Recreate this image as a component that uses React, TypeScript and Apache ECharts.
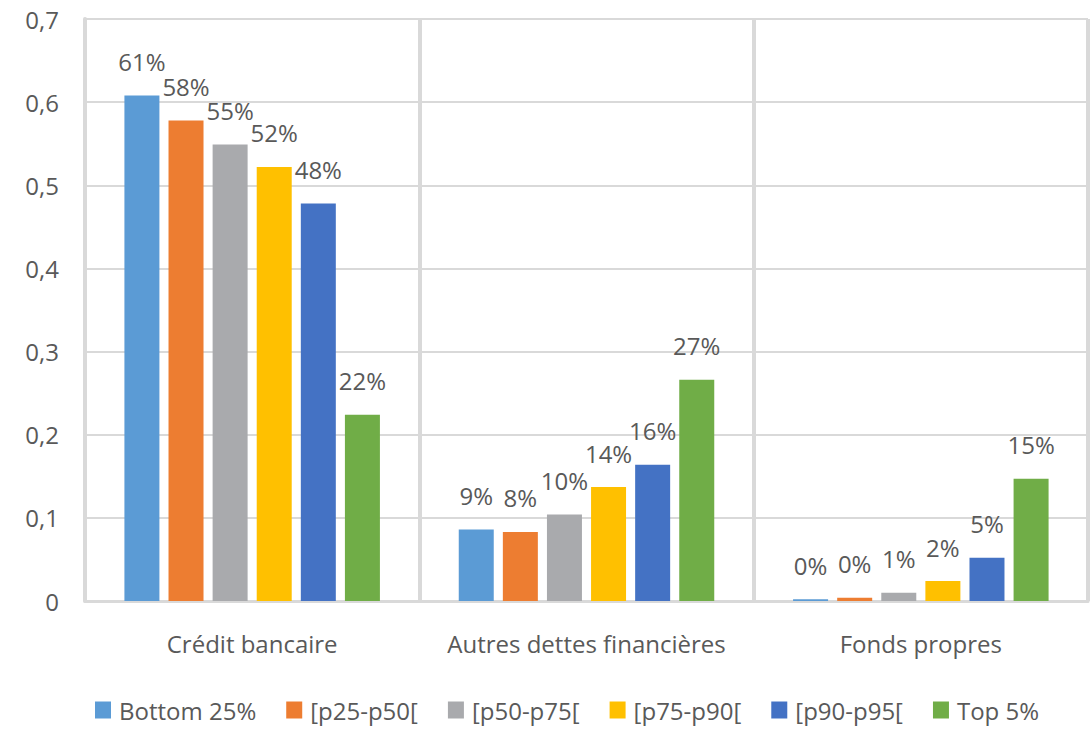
import React, { useEffect, useRef } from "react";
import * as echarts from "echarts";

const categories = ["Crédit bancaire", "Autres dettes financières", "Fonds propres"];
const seriesNames = ["Bottom 25%", "[p25-p50[", "[p50-p75[", "[p75-p90[", "[p90-p95[", "Top 5%"];
const seriesColors = ["#5B9BD5", "#ED7D31", "#A9AAAD", "#FFC000", "#4472C4", "#70AD47"];
const bottom25 = [0.608, 0.086, 0.002];
const p25p50 = [0.578, 0.083, 0.004];
const p50p75 = [0.549, 0.104, 0.01];
const p75p90 = [0.522, 0.137, 0.024];
const p90p95 = [0.478, 0.164, 0.052];
const top5 = [0.224, 0.266, 0.147];
const seriesValues = [bottom25, p25p50, p50p75, p75p90, p90p95, top5];

const FONT = "'Open Sans', 'Noto Sans', sans-serif";
const TEXT = "#595959";
const GRID = "#D9D9D9";

export default function App() {
  const ref = useRef<HTMLDivElement>(null);
  useEffect(() => {
    if (!ref.current) return;
    const chart = echarts.init(ref.current, null, { renderer: "svg" });
    chart.setOption({
      animation: false,
      textStyle: { fontFamily: FONT },
      grid: { left: 85, right: 3, top: 19, bottom: 130, containLabel: false },
      legend: {
        bottom: 4,
        left: 90,
        itemWidth: 16,
        itemHeight: 17,
        itemGap: 30,
        icon: "rect",
        textStyle: { fontFamily: FONT, fontSize: 24, color: TEXT, padding: [0, 0, 0, 3] },
        data: seriesNames,
      },
      xAxis: {
        type: "category",
        data: categories,
        axisLine: { show: true, lineStyle: { color: GRID, width: 3 } },
        axisTick: { show: false },
        splitLine: { show: true, interval: 0, lineStyle: { color: GRID, width: 4 } },
        axisLabel: { interval: 0, fontFamily: FONT, fontSize: 24, color: TEXT, margin: 30 },
      },
      yAxis: {
        type: "value",
        min: 0,
        max: 0.7,
        interval: 0.1,
        axisLine: { show: true, lineStyle: { color: GRID, width: 4 } },
        axisTick: { show: false },
        splitLine: { show: true, lineStyle: { color: GRID, width: 2 } },
        axisLabel: {
          fontFamily: FONT,
          fontSize: 24,
          color: TEXT,
          margin: 26,
          formatter: (v: number) => String(Math.round(v * 10) / 10).replace(".", ","),
        },
      },
      series: seriesNames.map((name, i) => ({
        name,
        type: "bar",
        data: seriesValues[i],
        barWidth: 35,
        barGap: "26%",
        itemStyle: { color: seriesColors[i] },
        label: {
          show: true,
          position: "top",
          distance: 22,
          fontFamily: FONT,
          fontSize: 24,
          color: TEXT,
          formatter: (p: any) => Math.round(p.value * 100) + "%",
        },
      })),
    });
    return () => chart.dispose();
  }, []);
  return (
    <div
      ref={ref}
      style={{ position: "fixed", left: 0, top: 0, width: 1091, height: 731, background: "#fff" }}
    />
  );
}
